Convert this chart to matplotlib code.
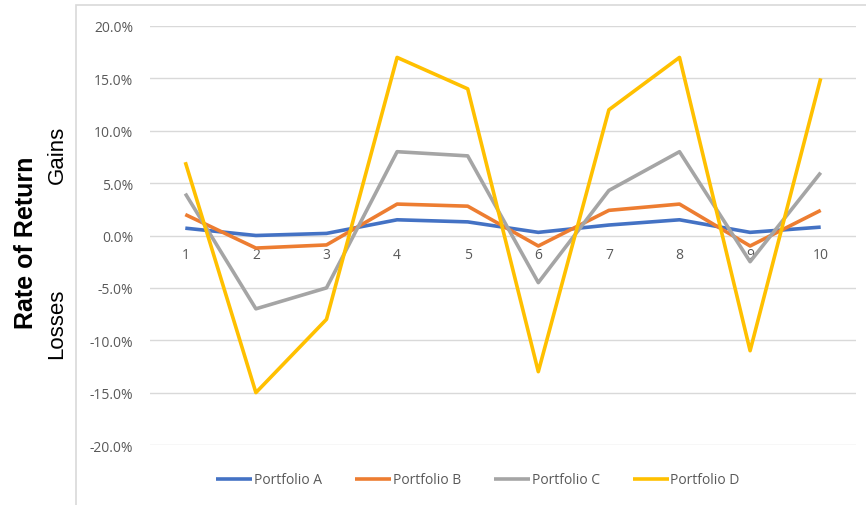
import matplotlib
matplotlib.use("Agg")
import matplotlib.pyplot as plt
from matplotlib.patches import Rectangle
from matplotlib.ticker import FuncFormatter

periods = [1, 2, 3, 4, 5, 6, 7, 8, 9, 10]
period_labels = ["1", "2", "3", "4", "5", "6", "7", "8", "9", "10"]
portfolio_a = [0.7, 0.0, 0.2, 1.5, 1.3, 0.3, 1.0, 1.5, 0.3, 0.8]
portfolio_b = [2.0, -1.2, -0.9, 3.0, 2.8, -1.0, 2.4, 3.0, -1.0, 2.4]
portfolio_c = [4.0, -7.0, -5.0, 8.0, 7.6, -4.5, 4.3, 8.0, -2.5, 6.0]
portfolio_d = [7.0, -15.0, -8.0, 17.0, 14.0, -13.0, 12.0, 17.0, -11.0, 15.0]
series_names = ["Portfolio A", "Portfolio B", "Portfolio C", "Portfolio D"]
y_ticks = [-20, -15, -10, -5, 0, 5, 10, 15, 20]

colors = ["#4472C4", "#ED7D31", "#A5A5A5", "#FFC000"]
plt.rcParams['font.family'] = ['Open Sans', 'DejaVu Sans']

fig = plt.figure(figsize=(8.66, 5.06), dpi=100)
# chart-area border (extends past right/bottom of image)
fig.patches.append(Rectangle((76/866, -0.1), 1.2, 1 - 6/506 + 0.1, transform=fig.transFigure,
                             fill=False, edgecolor="#D9D9D9", lw=1.2, zorder=0))

ax = fig.add_axes([150/866, 1 - 446/506, 706/866, 419/506])
for vals, name, c in zip([portfolio_a, portfolio_b, portfolio_c, portfolio_d], series_names, colors):
    ax.plot(periods, vals, color=c, lw=2.6, label=name, solid_capstyle='butt', zorder=3)

ax.set_xlim(0.5, 10.5)
ax.set_ylim(-20, 20)
ax.set_yticks(y_ticks)
ax.yaxis.set_major_formatter(FuncFormatter(lambda v, p: f"{v:.1f}%"))
ax.grid(axis='y', color="#D9D9D9", lw=1)
ax.set_axisbelow(True)
for s in ax.spines.values():
    s.set_visible(False)
ax.spines['bottom'].set_position(('data', 0))
ax.set_xticks(periods)
ax.set_xticklabels(period_labels)
ax.tick_params(axis='both', length=0, labelcolor="#595959", labelsize=10)
ax.tick_params(axis='x', pad=8)
ax.tick_params(axis='y', pad=12)

fig.text(26/866, 1 - 243/506, "Rate of Return", rotation=90, ha='center', va='center',
         fontsize=18, fontweight='bold', color='black', family=['Liberation Sans', 'DejaVu Sans'])
fig.text(57/866, 1 - 155/506, "Gains", rotation=90, ha='center', va='center',
         fontsize=16, color='black', family=['Liberation Sans', 'DejaVu Sans'])
fig.text(57/866, 1 - 324/506, "Losses", rotation=90, ha='center', va='center',
         fontsize=16, color='black', family=['Liberation Sans', 'DejaVu Sans'])

leg = fig.legend(loc='center', bbox_to_anchor=(478/866, 1 - 481/506), ncol=4, frameon=False,
                 fontsize=10, handlelength=2.6, handletextpad=0.1, columnspacing=2.4)
for t in leg.get_texts():
    t.set_color("#595959")

fig.savefig("out.png", dpi=100)
